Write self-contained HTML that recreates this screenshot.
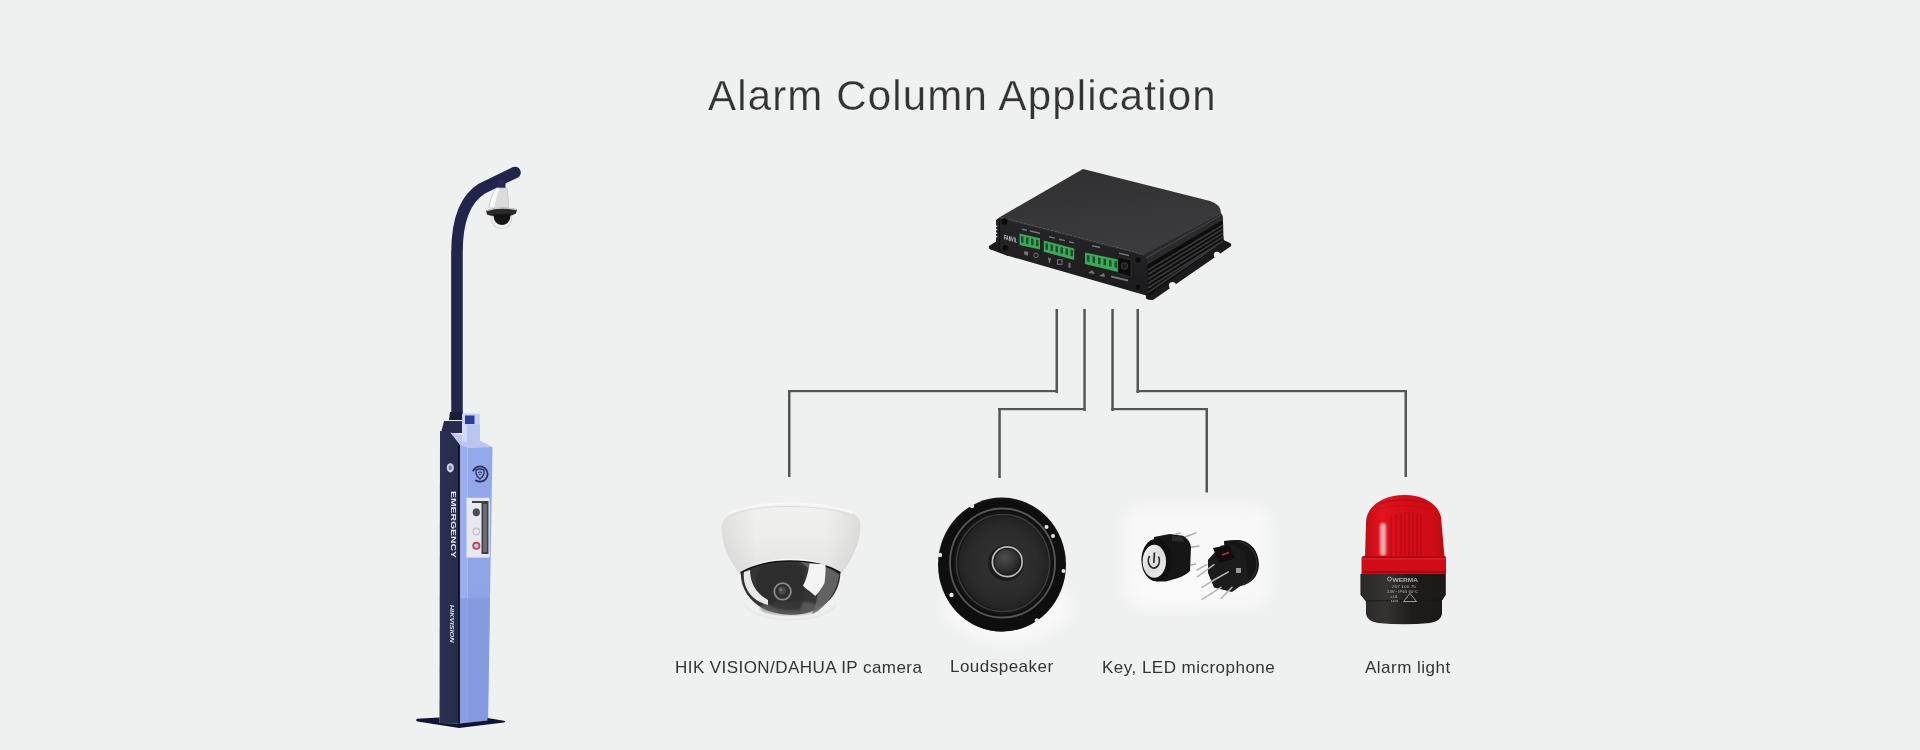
<!DOCTYPE html>
<html><head><meta charset="utf-8">
<style>
html,body{margin:0;padding:0;width:1920px;height:750px;overflow:hidden;background:#eff1f0;}
svg{display:block;position:absolute;left:0;top:0;will-change:transform;}
text{font-family:"Liberation Sans",sans-serif;}
</style></head><body>
<svg width="1920" height="750" viewBox="0 0 1920 750">
<defs>
<linearGradient id="faceG" x1="0" y1="0" x2="0" y2="1">
<stop offset="0" stop-color="#94a9eb"/><stop offset="1" stop-color="#8aa0e4"/>
</linearGradient>
<linearGradient id="sideG" x1="0" y1="0" x2="1" y2="0">
<stop offset="0" stop-color="#2d3152"/><stop offset="1" stop-color="#282c4a"/>
</linearGradient>
<linearGradient id="boxTop" x1="0" y1="0" x2="1" y2="1">
<stop offset="0" stop-color="#3a3a3c"/><stop offset="1" stop-color="#2a2a2c"/>
</linearGradient>
<radialGradient id="camHouse" cx="0.5" cy="0.3" r="0.7">
<stop offset="0" stop-color="#f2f2ef"/><stop offset="1" stop-color="#e2e3df"/>
</radialGradient>
<radialGradient id="lensG" cx="0.45" cy="0.35" r="0.65">
<stop offset="0" stop-color="#555"/><stop offset="0.6" stop-color="#2c2c2c"/><stop offset="1" stop-color="#1a1a1a"/>
</radialGradient>
<radialGradient id="redG" cx="0.4" cy="0.3" r="0.8">
<stop offset="0" stop-color="#e8202a"/><stop offset="0.6" stop-color="#c8101a"/><stop offset="1" stop-color="#8a0a10"/>
</radialGradient>
<radialGradient id="spkG" cx="0.5" cy="0.5" r="0.5">
<stop offset="0" stop-color="#2a2a2a"/><stop offset="1" stop-color="#1c1c1c"/>
</radialGradient>
<radialGradient id="patchG" cx="0.5" cy="0.5" r="0.5">
<stop offset="0" stop-color="#fafafa"/><stop offset="0.7" stop-color="#f6f6f6"/><stop offset="1" stop-color="#eff1f0" stop-opacity="0"/>
</radialGradient>
</defs>
<rect width="1920" height="750" fill="#eff1f0"/>
<text x="708" y="110" font-size="42" fill="#333" letter-spacing="1.16" stroke="#eff1f0" stroke-width="0.25">Alarm Column Application</text>

<!-- ============ POLE ============ -->
<g id="pole">
<path d="M457,413 L457,252 C457,220 465,199 482,188.5 L515,172.5" fill="none" stroke="#21254b" stroke-width="11.5" stroke-linecap="round"/>
<path d="M452,400 L452,250" stroke="#2c3160" stroke-width="2" opacity="0.5"/>
<!-- camera on pole -->
<path d="M497.5,181 L505.5,179 L505.5,189 L497.5,189 Z" fill="#262a52"/>
<path d="M496.5,188 L507,188 C508,195 508.5,201 508.5,208 L489,208 C489.5,201 492,194 496.5,188 Z" fill="#dcdcdc"/>
<path d="M496.5,188 L500,188 C497,195 495,201 494.5,208 L489,208 C489.5,201 492,194 496.5,188 Z" fill="#f7f7f7"/>
<path d="M496.5,188 L507,188 C508,195 508.5,201 508.5,208 L489,208 C489.5,201 492,194 496.5,188 Z" fill="none" stroke="#bdbdbd" stroke-width="0.7"/>
<path d="M486,210.5 Q500,205.5 517,209.5 L516,213.5 Q510,217 502,216.5 Q492,216.5 487,214.5 Z" fill="#2a2a2a"/>
<path d="M486.5,210.5 Q500,206 516.5,209.5" fill="none" stroke="#c9c9c9" stroke-width="1.4"/>
<path d="M493.5,214 Q493,224.5 502,225 Q510.5,224.5 510.5,214 Z" fill="#151515"/>
<path d="M491.5,216 Q491.5,228.5 502,228.5 Q512,228.5 511.5,216" fill="none" stroke="#d9d9d9" stroke-width="1.4"/>
<!-- collar & top block -->
<path d="M449,420 L450,412 L462.5,412 L463,420 Z" fill="#1b1d36"/>
<path d="M444,421 L462,421 L462,433 L441,433 Z" fill="#282b4e"/>
<!-- dark side panel -->
<path d="M440,431 L450.5,432.5 L459.5,444 L459.5,723.5 L439.5,723 Z" fill="url(#sideG)"/>
<!-- bevel strip -->
<path d="M459.5,444 L467.5,447.5 L467.5,722.5 L459.5,723.5 Z" fill="#9aaeec"/>
<!-- light front face -->
<path d="M467.5,447.5 L492.5,447 L488,720.5 L467.5,722.5 Z" fill="url(#faceG)"/>
<path d="M459.5,598 L490,598 L488,720.5 L459.5,723.5 Z" fill="#7f96dc" opacity="0.6"/>
<path d="M458,443 L460,445 L460,723.5 L458,723.5 Z" fill="#14172c"/>
<!-- top bevel -->
<path d="M450.5,432.5 L474,437.5 L492.5,447 L467.5,447.5 L459.5,444 Z" fill="#bcc6f0"/>
<!-- small cylinder -->
<path d="M462,419 L480,419 L480,441 Q471,444 462,441 Z" fill="#b9c6f0"/>
<path d="M462,419 L467,419 L467,442 Q464,442 462,441 Z" fill="#d3dbf6"/>
<rect x="462" y="413.5" width="18" height="11" rx="1" fill="#c8d1f3"/>
<rect x="465" y="415.5" width="9.5" height="8.5" fill="#2b3d96"/>
<!-- logos -->
<circle cx="480" cy="474" r="7.6" fill="none" stroke="#2b2f55" stroke-width="1.7" stroke-dasharray="38 10" transform="rotate(200 480 474)"/>
<path d="M476,470 Q480,468 484,470 L484,473.5 Q483,477 480,479 Q477,477 476,473.5 Z" fill="none" stroke="#2b2f55" stroke-width="1.3"/>
<path d="M478,472.5 Q480,471.3 482,472.5 M478.8,474.5 Q480,473.8 481.2,474.5" fill="none" stroke="#2b2f55" stroke-width="0.9"/>
<ellipse cx="450.3" cy="467.8" rx="3.6" ry="4.6" fill="#cfd2e2"/>
<ellipse cx="450.3" cy="467.8" rx="1.8" ry="2.4" fill="#7d82a3"/>
<!-- panel -->
<rect x="466.5" y="497.8" width="23.2" height="59.8" fill="#e7e9ee"/>
<path d="M472,501 L488.5,501 L488.5,554 L481.5,554 L481.5,503 L472,503 Z" fill="#3e3f44"/>
<rect x="483" y="504" width="4" height="48" fill="#6b6c72"/>
<ellipse cx="476.3" cy="512.2" rx="3.6" ry="4" fill="#4d4e52"/>
<circle cx="476.3" cy="531.4" r="3.2" fill="none" stroke="#c4c5ca" stroke-width="1.4"/>
<circle cx="476.3" cy="545.8" r="3.2" fill="#9fd0e8" stroke="#e0303a" stroke-width="1.6"/>
<text x="0" y="0" transform="translate(451,491) rotate(90)" font-size="7" font-weight="bold" fill="#e4e6f0" textLength="67" lengthAdjust="spacingAndGlyphs">EMERGENCY</text>
<text x="0" y="0" transform="translate(450.3,604.7) rotate(90)" font-size="5.4" font-weight="bold" font-style="italic" fill="#dcdfee" textLength="38" lengthAdjust="spacingAndGlyphs">HIKVISION</text>
<!-- base plate -->
<path d="M417,718.8 Q415,720.5 417.5,721.5 L457.5,727.8 Q459,728 461,727.7 L504,722.5 Q506.5,721.8 504,720.8 L487.5,718 L487.5,720.5 L459.5,723.5 L439.5,723 L439.5,717.5 Z" fill="#111432"/>
</g>
<!-- ============ CONTROLLER BOX ============ -->
<g id="box">
<defs>
<linearGradient id="boxTopG" x1="0" y1="0" x2="0.3" y2="1">
<stop offset="0" stop-color="#2f2f31"/><stop offset="0.6" stop-color="#37373a"/><stop offset="1" stop-color="#3b3b3e"/>
</linearGradient>
<linearGradient id="boxFrontG" x1="0" y1="0" x2="0" y2="1">
<stop offset="0" stop-color="#262628"/><stop offset="1" stop-color="#1b1b1d"/>
</linearGradient>
</defs>
<!-- left flange -->
<path d="M989,246 Q988,249.5 992,250 L1008,256 L1008,244 L997,241 Z" fill="#1a1a1c"/>
<!-- right backing + flange -->
<path d="M1144,254 L1221,213 L1223.5,240 L1229,242.5 Q1233,244.5 1230.5,246.5 L1153,300 Q1149,300.5 1146,298.5 Z" fill="#1b1b1d"/>
<circle cx="1172.5" cy="285.5" r="3.6" fill="#eff1f0"/>
<circle cx="1217" cy="255" r="3.2" fill="#eff1f0"/>
<!-- top face -->
<path d="M1000,217 L1083,169 L1210,201 Q1221,204.5 1221,213 L1144,254.5 Z" fill="url(#boxTopG)"/>
<!-- rounded lip -->
<path d="M1144,254.5 L1221,213 Q1223.5,216 1223,220 L1147,265 Q1145,260 1144,254.5 Z" fill="#2a2a2c"/>
<path d="M1146,258 L1221.5,215" stroke="#4a4a4d" stroke-width="1"/>
<!-- fins -->
<path d="M1147,265 L1223,220 L1223.5,242 L1148,296 Z" fill="#0d0d0e"/>
<g stroke="#3a3a3c" stroke-width="1.6">
<line x1="1148" y1="270" x2="1223" y2="225"/>
<line x1="1148" y1="274.5" x2="1223" y2="229"/>
<line x1="1148" y1="279" x2="1223" y2="233"/>
<line x1="1148" y1="283.5" x2="1223" y2="237"/>
<line x1="1148" y1="288" x2="1223" y2="241"/>
<line x1="1148" y1="292.5" x2="1216" y2="246"/>
</g>
<!-- front face -->
<path d="M996,220 L1000,217 L1144,254.5 Q1147,257 1147,262 L1148,296 L1007,255.5 L996,246 Z" fill="url(#boxFrontG)"/>
<path d="M1000,217.5 L1144,255" stroke="#404042" stroke-width="1.4" opacity="0.5"/>
<g fill="#eff1f0">
<rect x="995" y="225.5" width="2.2" height="1.3"/><rect x="995" y="229" width="2.2" height="1.3"/>
<rect x="995" y="232.5" width="2.2" height="1.3"/><rect x="995" y="236" width="2.2" height="1.3"/>
</g>
<path d="M999.5,219 L999.5,252" stroke="#0f0f10" stroke-width="1.2"/>
<!-- screws -->
<g fill="#0b0b0c" stroke="#2e2e30" stroke-width="0.8">
<circle cx="1004.5" cy="221.8" r="3.6"/>
<circle cx="1005.5" cy="248" r="3.6"/>
<circle cx="1138" cy="260" r="3.4"/>
<circle cx="1138" cy="287" r="3.4"/>
</g>
<!-- logo -->
<text x="0" y="0" transform="translate(1004,239.5) skewY(14)" font-size="7" font-weight="bold" fill="#d0d0d0" textLength="13" lengthAdjust="spacingAndGlyphs">FANVIL</text>
<!-- green terminals -->
<g fill="#3ca858">
<path d="M1019.5,233.5 L1040,238.2 L1040,249.4 L1019.5,245 Z"/>
<path d="M1043.8,240.5 L1074.2,248.4 L1074.2,260 L1043.8,251.7 Z"/>
<path d="M1085,252.5 L1118,259.5 L1118,272 L1085,264 Z"/>
</g>
<g fill="#1c4f2a">
<path d="M1021,236 L1023.5,236.6 L1023.5,243 L1021,242.4 Z"/>
<path d="M1026,237.2 L1028.5,237.8 L1028.5,244.2 L1026,243.6 Z"/>
<path d="M1031,238.4 L1033.5,239 L1033.5,245.4 L1031,244.8 Z"/>
<path d="M1036,239.6 L1038.5,240.2 L1038.5,246.6 L1036,246 Z"/>
<path d="M1045.5,243 L1048,243.6 L1048,250 L1045.5,249.4 Z"/>
<path d="M1050.5,244.3 L1053,244.9 L1053,251.3 L1050.5,250.7 Z"/>
<path d="M1055.5,245.6 L1058,246.2 L1058,252.6 L1055.5,252 Z"/>
<path d="M1060.5,246.9 L1063,247.5 L1063,253.9 L1060.5,253.3 Z"/>
<path d="M1065.5,248.2 L1068,248.8 L1068,255.2 L1065.5,254.6 Z"/>
<path d="M1070.5,249.5 L1073,250.1 L1073,256.5 L1070.5,255.9 Z"/>
<path d="M1087,255 L1089.5,255.6 L1089.5,262 L1087,261.4 Z"/>
<path d="M1092.5,256.2 L1095,256.8 L1095,263.2 L1092.5,262.6 Z"/>
<path d="M1098,257.4 L1100.5,258 L1100.5,264.4 L1098,263.8 Z"/>
<path d="M1103.5,258.6 L1106,259.2 L1106,265.6 L1103.5,265 Z"/>
<path d="M1109,259.8 L1111.5,260.4 L1111.5,266.8 L1109,266.2 Z"/>
<path d="M1114.5,261 L1117,261.6 L1117,268 L1114.5,267.4 Z"/>
</g>
<!-- power jack -->
<path d="M1118,257 L1131,260 L1131,277 L1118,273.5 Z" fill="#0c0c0d" stroke="#3a3a3c" stroke-width="0.6"/>
<circle cx="1124.5" cy="266" r="3.3" fill="#1f1f20" stroke="#555" stroke-width="0.6"/>
<!-- tiny labels & icons -->
<g fill="#b0b0b0" opacity="0.6">
<path d="M1022,228.5 L1027,229.6 L1027,231 L1022,229.9 Z"/>
<path d="M1030,230.3 L1040,232.6 L1040,234 L1030,231.7 Z"/>
<path d="M1049,236 L1055,237.4 L1055,238.8 L1049,237.4 Z"/>
<path d="M1059,238.5 L1065,239.9 L1065,241.3 L1059,239.9 Z"/>
<path d="M1069,241 L1074,242.2 L1074,243.6 L1069,242.4 Z"/>
<path d="M1092,245 L1100,246.8 L1100,248.2 L1092,246.4 Z"/>
<path d="M1119,252.5 L1129,254.8 L1129,256.2 L1119,253.9 Z"/>
<path d="M1111,275.5 L1128,279.5 L1128,281.5 L1111,277.5 Z"/>
<path d="M1024.5,251 L1028.5,252 L1027.5,256 L1024,254 Z"/>
<circle cx="1036" cy="255.4" r="2.2" fill="none" stroke="#bdbdbd" stroke-width="0.9"/>
<path d="M1048,257.5 L1051,258.3 L1050,263 L1049,263 Z"/>
<rect x="1057.5" y="259.8" width="4.5" height="4.5" fill="none" stroke="#bdbdbd" stroke-width="0.9"/>
<path d="M1068.5,262.5 L1070.5,263 L1070.5,268 L1068.5,267.5 Z"/>
<path d="M1088,273 L1092,270 L1095,274 Z"/>
<path d="M1099,276 L1104,273 L1105,277 Z"/>
</g>
</g>
<!-- ============ LINES ============ -->
<g fill="#555">
<rect x="1055.5" y="309" width="2.5" height="84"/>
<rect x="788" y="390" width="270" height="2.2"/>
<rect x="788" y="390" width="2.5" height="87"/>
<rect x="1083.3" y="309" width="2.5" height="102"/>
<rect x="998" y="408" width="87" height="2.2"/>
<rect x="998.3" y="408" width="2.5" height="70"/>
<rect x="1111.3" y="309" width="2.5" height="102"/>
<rect x="1111.3" y="408" width="96.5" height="2.2"/>
<rect x="1205.5" y="408" width="2.5" height="84.5"/>
<rect x="1136.5" y="309" width="2.5" height="84"/>
<rect x="1136.5" y="390" width="270.5" height="2.2"/>
<rect x="1404.5" y="390" width="2.5" height="87"/>
</g>

<!-- ============ DOME CAMERA ============ -->
<g id="cam">
<defs>
<linearGradient id="houseG" x1="0" y1="0" x2="0" y2="1">
<stop offset="0" stop-color="#f1f1ef"/><stop offset="0.5" stop-color="#ededeb"/><stop offset="1" stop-color="#e4e4e2"/>
</linearGradient>
<linearGradient id="houseSide" x1="0" y1="0" x2="1" y2="0">
<stop offset="0" stop-color="#000" stop-opacity="0.07"/><stop offset="0.25" stop-color="#000" stop-opacity="0"/><stop offset="0.75" stop-color="#000" stop-opacity="0"/><stop offset="1" stop-color="#000" stop-opacity="0.08"/>
</linearGradient>
<radialGradient id="domeG" cx="0.5" cy="0.25" r="0.8">
<stop offset="0" stop-color="#3c3c3c"/><stop offset="0.55" stop-color="#262626"/><stop offset="1" stop-color="#555"/>
</radialGradient>
<filter id="soft1" x="-20%" y="-20%" width="140%" height="140%"><feGaussianBlur stdDeviation="1.2"/></filter>
<filter id="soft05" x="-20%" y="-20%" width="140%" height="140%"><feGaussianBlur stdDeviation="0.6"/></filter>
</defs>
<!-- housing -->
<path d="M721.5,527 C722,512 752,500.5 788,500 C826,500.5 860,509 860.5,524 C860.5,545 851,561 841,574 L740,574 C730,562 721.5,546 721.5,527 Z" fill="url(#houseG)"/>
<path d="M721.5,527 C722,512 752,500.5 788,500 C826,500.5 860,509 860.5,524 C860.5,545 851,561 841,574 L740,574 C730,562 721.5,546 721.5,527 Z" fill="url(#houseSide)"/>
<path d="M728,514 C745,506 765,503.5 788,503.5 C815,503.5 838,507 853,513" fill="none" stroke="#f8f8f6" stroke-width="2.2" filter="url(#soft05)"/>
<path d="M727,517 C745,509 765,506.5 788,506.5 C815,506.5 838,510 854,516" fill="none" stroke="#dcdcda" stroke-width="1" filter="url(#soft05)"/>

<!-- lens opening rim -->
<path d="M738,576 C752,564 770,558.5 790,558.5 C811,558.5 829,564 843,576 L841,580 C827,569 809,565 790,565 C771,565 754,569 740,580 Z" fill="#f7f7f5"/>
<!-- dome -->
<path d="M740.6,572.7 C754,565 771,561 790,561 C810,561 828,565 840.4,572.7 C840,597 820,614.7 791,614.7 C761,614.7 741,597 740.6,572.7 Z" fill="#353535"/>
<path d="M740.6,572.7 C754,565 771,561 790,561 C810,561 828,565 840.4,572.7" fill="none" stroke="#111" stroke-width="1.6"/>
<!-- gray crescent band (right) -->
<path d="M800,562 C815,570 824,590 812,614 C822,610 836,596 839,575 C830,567 818,563 800,562 Z" fill="#6a6a6a" opacity="0.85" filter="url(#soft05)"/>
<!-- bottom gray -->
<ellipse cx="790" cy="608" rx="30" ry="7" fill="#6e6e6e" opacity="0.6" filter="url(#soft1)"/>
<!-- dark inner -->
<path d="M760,566 C772,563 790,563 800,566 C806,580 806,598 800,610 C785,612 770,608 762,600 C756,590 756,576 760,566 Z" fill="#2a2a2a" opacity="0.7" filter="url(#soft1)"/>
<!-- reflections -->
<path d="M744,572 C742,588 752,601 768,605 L768,600 C757,594 750,584 750,570 Z" fill="#f2f2f2" opacity="0.95" filter="url(#soft05)"/>
<path d="M809.6,563.4 L825.5,564.3 C826,572 825,578 824.5,583 C822,588 818,593 815.2,596 C811,592 806,589 803,585.8 C807,578 808.5,570 809.6,563.4 Z" fill="#f4f4f4" filter="url(#soft05)"/>
<circle cx="782.6" cy="591.4" r="8.3" fill="#2f2f2f" stroke="#8a8a8a" stroke-width="1.8"/>
<circle cx="782" cy="590.6" r="4" fill="#4a4a4a"/>
<circle cx="780.8" cy="589.4" r="1.5" fill="#7a7a7a"/>
<path d="M744,603 C752,613 768,618.5 791,618.5 C813,618.5 828,613 837,603 L836,607 C826,617 811,620.5 791,620.5 C770,620.5 755,617 745,607 Z" fill="#e9e9e7"/>
</g>
<!-- ============ SPEAKER ============ -->
<g id="spk">
<defs>
<radialGradient id="coneG" cx="0.5" cy="0.5" r="0.5">
<stop offset="0" stop-color="#333"/><stop offset="0.75" stop-color="#2b2b2b"/><stop offset="1" stop-color="#222"/>
</radialGradient>
<radialGradient id="dustG" cx="0.4" cy="0.35" r="0.7">
<stop offset="0" stop-color="#4e4e4e"/><stop offset="0.6" stop-color="#333"/><stop offset="1" stop-color="#1c1c1c"/>
</radialGradient>
<filter id="spkBlur" x="-30%" y="-30%" width="160%" height="160%"><feGaussianBlur stdDeviation="8"/></filter>
</defs>
<ellipse cx="1008" cy="606" rx="62" ry="34" fill="#f9f9f9" filter="url(#spkBlur)"/>
<ellipse cx="1002" cy="564.6" rx="64" ry="67" fill="#131313"/>
<ellipse cx="1002" cy="566" rx="63" ry="65.5" fill="#0e0e0e"/>
<ellipse cx="1002.5" cy="563" rx="52.5" ry="54.5" fill="none" stroke="#575757" stroke-width="1.8"/>
<ellipse cx="1003" cy="563" rx="50" ry="52" fill="#141414"/>
<ellipse cx="1003" cy="563" rx="46.5" ry="48.5" fill="none" stroke="#3c3c3c" stroke-width="1.6"/>
<ellipse cx="1003.5" cy="563" rx="45" ry="47" fill="url(#coneG)"/>
<circle cx="1006" cy="563" r="18" fill="#161616" opacity="0.8"/>
<circle cx="1007.3" cy="561.7" r="16.2" fill="#1a1a1a"/>
<circle cx="1007.3" cy="561.7" r="14.9" fill="none" stroke="#bcbcbc" stroke-width="1.7"/>
<circle cx="1007.3" cy="561.7" r="12.8" fill="url(#dustG)"/>
<g fill="#e6e6e6">
<circle cx="972" cy="506" r="2.2"/>
<circle cx="1046.5" cy="527" r="2"/>
<circle cx="1053" cy="536" r="2"/>
<circle cx="940" cy="555" r="2.2"/>
<circle cx="951.5" cy="595" r="2.2"/>
<circle cx="1063.5" cy="571" r="2"/>
<circle cx="1037" cy="620.5" r="2.2"/>
</g>
</g>
<!-- ============ KEYS ============ -->
<g id="keys">
<defs>
<radialGradient id="keyPatch" cx="0.5" cy="0.5" r="0.5">
<stop offset="0" stop-color="#f9f9f9"/><stop offset="0.7" stop-color="#f6f6f6"/><stop offset="1" stop-color="#eff1f0"/>
</radialGradient>
<linearGradient id="discG" x1="0" y1="0" x2="1" y2="1">
<stop offset="0" stop-color="#f4f4f4"/><stop offset="0.5" stop-color="#dcdcdc"/><stop offset="1" stop-color="#f0f0f0"/>
</linearGradient>
</defs>
<filter id="patchBlur" x="-30%" y="-30%" width="160%" height="160%"><feGaussianBlur stdDeviation="7"/></filter>
<rect x="1124" y="506" width="146" height="102" rx="20" fill="#f7f8f7" filter="url(#patchBlur)"/>
<ellipse cx="1175" cy="585" rx="40" ry="20" fill="#fafafa" filter="url(#patchBlur)"/>
<!-- left key pins -->
<g stroke="#a9a9a9" stroke-width="1.4" stroke-linecap="round">
<line x1="1176" y1="534" x2="1180" y2="533"/>
<line x1="1185" y1="537" x2="1196" y2="532.8"/>
<line x1="1188" y1="547.8" x2="1199" y2="546"/>
<line x1="1186" y1="566.4" x2="1195.4" y2="564"/>
</g>
<!-- left key body -->
<path d="M1154,537 L1169.6,534 L1183,535.8 Q1190,540 1191,547 L1190,571 Q1186,575 1178,578 L1166,581.4 L1156,581.5 Z" fill="#161616"/>
<path d="M1172,535.5 L1183,537 L1184,542 L1172,541 Z" fill="#2a2a2a"/>
<ellipse cx="1156.4" cy="560" rx="15" ry="21.3" fill="#101010"/>
<ellipse cx="1154.3" cy="561.3" rx="11.7" ry="16.5" fill="url(#discG)"/>
<path d="M1149.5,556 A5.5,7.5 0 1 0 1158.5,556.5" fill="none" stroke="#2b2b2b" stroke-width="1.7"/>
<line x1="1154.4" y1="552.5" x2="1153.8" y2="563" stroke="#2b2b2b" stroke-width="1.7"/>
<!-- right key cylinder -->
<path d="M1224,541 Q1232,539.5 1240,540 Q1258,544 1259,564.6 Q1258,582 1241,586 L1226,587 Z" fill="#151515"/>
<path d="M1238,541 Q1256,546 1257,564 Q1256,580 1241,585" fill="none" stroke="#2e2e2e" stroke-width="1.2"/>
<!-- right key housing -->
<path d="M1208,559.8 L1221,545.4 L1234.4,544.8 L1245,552.6 L1248.8,580 L1232,592 L1214,587.4 L1208,573 Z" fill="#1b1b1b"/>
<path d="M1213,548 L1229,545 L1235,558 L1219,563 Z" fill="#0e0e0e"/>
<path d="M1222,555 L1229,552.5" stroke="#c03030" stroke-width="1.6"/>
<rect x="1236" y="568" width="5" height="5" fill="#9a9a9a"/>
<!-- right key pins -->
<g stroke="#b4b4b4" stroke-width="1.5" stroke-linecap="round" fill="none">
<line x1="1206.8" y1="564.6" x2="1197" y2="570"/>
<line x1="1214" y1="564.6" x2="1197.5" y2="576.6"/>
<polyline points="1228.4,571.8 1214,580 1202,587.4"/>
<line x1="1221" y1="587.4" x2="1202" y2="599.4"/>
<line x1="1232" y1="587.4" x2="1221" y2="598.5"/>
</g>
</g>
<!-- ============ ALARM LIGHT ============ -->
<g id="light">
<defs>
<linearGradient id="redH" x1="0" y1="0" x2="1" y2="0">
<stop offset="0" stop-color="#c50a14"/><stop offset="0.2" stop-color="#e0141e"/><stop offset="0.5" stop-color="#d40d18"/><stop offset="0.85" stop-color="#d00c16"/><stop offset="1" stop-color="#b80912"/>
</linearGradient>
<linearGradient id="blackH" x1="0" y1="0" x2="1" y2="0">
<stop offset="0" stop-color="#2c2a28"/><stop offset="0.3" stop-color="#353331"/><stop offset="0.6" stop-color="#1f1d1c"/><stop offset="1" stop-color="#1a1918"/>
</linearGradient>
<filter id="softL" x="-50%" y="-20%" width="200%" height="140%"><feGaussianBlur stdDeviation="1.3"/></filter>
</defs>
<path d="M1365,557 L1366,523 C1366,506 1383,495 1404.5,495 C1426,495 1442,506 1441.5,523 L1444.5,557 Z" fill="url(#redH)"/>
<g stroke="#9c0810" stroke-width="1.1" opacity="0.6">
<line x1="1401" y1="513" x2="1401" y2="555"/><line x1="1405" y1="512" x2="1405" y2="555"/>
<line x1="1409" y1="512" x2="1409" y2="555"/><line x1="1413" y1="512" x2="1413" y2="555"/>
<line x1="1417" y1="513" x2="1417" y2="555"/><line x1="1421" y1="514" x2="1421" y2="555"/>
<line x1="1396" y1="514" x2="1396" y2="555"/><line x1="1391" y1="516" x2="1391" y2="555"/>
</g>
<path d="M1379,504 Q1404.5,496 1430,504" fill="none" stroke="#9c0810" stroke-width="1.4" opacity="0.5"/>
<path d="M1374,510 Q1404.5,501 1435,510" fill="none" stroke="#a8101a" stroke-width="1" opacity="0.4"/>
<rect x="1380" y="523" width="6" height="33" rx="3" fill="#f8d0d3" opacity="0.8" filter="url(#softL)"/>
<!-- red ring -->
<path d="M1361.5,558 Q1362,556 1365,556 L1444,556 Q1446,556 1446,558 L1446,574 L1361.5,574 Z" fill="#d20c17"/>
<path d="M1362,557 L1445.5,557" stroke="#8a0810" stroke-width="1.4" opacity="0.6"/>
<path d="M1362,559 L1445.5,559" stroke="#e8404a" stroke-width="1" opacity="0.5"/>
<path d="M1362,572 L1445.5,572" stroke="#8a0a10" stroke-width="2" opacity="0.7"/>
<!-- black base -->
<path d="M1360.4,574 L1445.8,574 L1445.8,594.5 L1442,600 L1442,614 Q1441,621 1430,623 Q1404,625.5 1378,623 Q1367,621 1366,614 L1366,601 L1360.4,594.5 Z" fill="url(#blackH)"/>
<path d="M1361,594.5 L1366,601 L1442,600 L1445.5,594.5" fill="none" stroke="#151413" stroke-width="1" opacity="0.8"/>
<g fill="#d4d4d4" opacity="0.8">
<circle cx="1389.5" cy="579" r="2" fill="none" stroke="#d4d4d4" stroke-width="0.9"/>
<text x="1392.5" y="581.5" font-size="5.2" font-weight="bold" textLength="25.5" lengthAdjust="spacingAndGlyphs">WERMA</text>
<text x="1392" y="588" font-size="4" textLength="24" lengthAdjust="spacingAndGlyphs">207 100 75</text>
<text x="1387" y="593" font-size="4" textLength="31" lengthAdjust="spacingAndGlyphs">24V~ IP65 60°C</text>
<text x="1390.5" y="598" font-size="3.6" textLength="8" lengthAdjust="spacingAndGlyphs">cUL</text>
<text x="1390.5" y="602" font-size="3.6" textLength="8" lengthAdjust="spacingAndGlyphs">us</text>
</g>
<path d="M1410,593.5 L1416.5,601.5 L1403.5,601.5 Z" fill="none" stroke="#cfcfcf" stroke-width="0.9" opacity="0.8"/>
</g>
<g font-size="17" fill="#333" letter-spacing="0.48">
<text x="675" y="673" letter-spacing="0.44">HIK VISION/DAHUA IP camera</text>
<text x="950" y="672">Loudspeaker</text>
<text x="1102" y="673">Key, LED microphone</text>
<text x="1365" y="673">Alarm light</text>
</g>
</svg>
</body></html>
